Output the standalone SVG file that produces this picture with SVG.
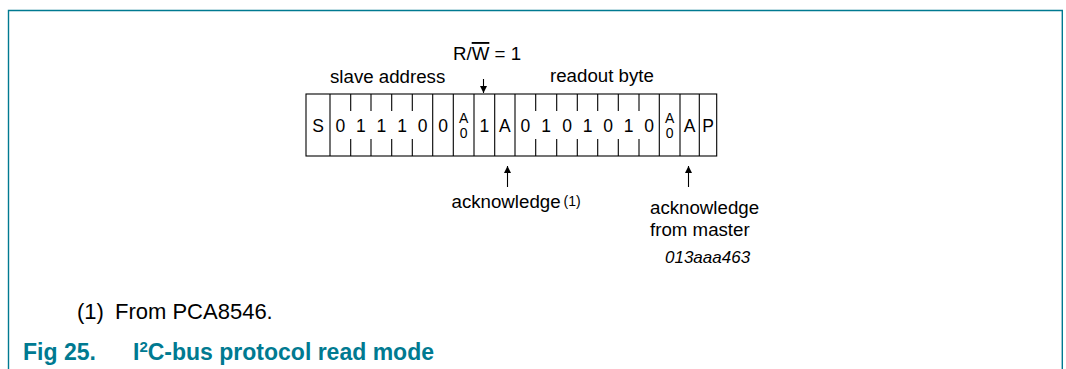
<svg xmlns="http://www.w3.org/2000/svg" width="1066" height="369" viewBox="0 0 1066 369">
<style>
.t{font-family:"Liberation Sans",Arial,sans-serif;fill:#000}
.c{font-size:17.5px;text-anchor:middle}
.s{font-size:14px;text-anchor:middle}
.l{font-size:18.7px}
.ln{stroke:#000;stroke-width:1.1;fill:none}
.fr{stroke:#007a91;stroke-width:1.4;fill:none}
</style>
<defs>
<marker id="ah" viewBox="0 0 10 10" refX="10" refY="5" markerWidth="8" markerHeight="7" orient="auto" markerUnits="userSpaceOnUse">
<path d="M0,0 L10,5 L0,10 Z" fill="#000"/>
</marker>
</defs>
<g id="frame">
<path class="fr" d="M8.5,369 V10.5 H1062.3 V369"/>
</g>
<g id="register">
<rect class="ln" x="306" y="94" width="410.7" height="62" stroke-width="1.4"/>
<path class="ln" d="M330,94V156 M432.7,94V156 M453.3,94V156 M474,94V156 M494.7,94V156 M515,94V156 M659.3,94V156 M680,94V156 M699.3,94V156"/>
<path class="ln" d="M350.7,94V111 M350.7,139V156 M371,94V111 M371,139V156 M391.7,94V111 M391.7,139V156 M412.3,94V111 M412.3,139V156 M535.7,94V111 M535.7,139V156 M556.7,94V111 M556.7,139V156 M577.3,94V111 M577.3,139V156 M597.7,94V111 M597.7,139V156 M618.3,94V111 M618.3,139V156 M639,94V111 M639,139V156"/>
<g class="t c">
<text x="318" y="131.5">S</text>
<text x="340.3" y="131.5">0</text>
<text x="360.8" y="131.5">1</text>
<text x="381.3" y="131.5">1</text>
<text x="402" y="131.5">1</text>
<text x="422.5" y="131.5">0</text>
<text x="443" y="131.5">0</text>
<text x="484.3" y="131.5">1</text>
<text x="504.8" y="131.5">A</text>
<text x="525.3" y="131.5">0</text>
<text x="546.2" y="131.5">1</text>
<text x="567" y="131.5">0</text>
<text x="587.5" y="131.5">1</text>
<text x="608" y="131.5">0</text>
<text x="628.7" y="131.5">1</text>
<text x="649.2" y="131.5">0</text>
<text x="689.7" y="131.5">A</text>
<text x="708" y="131.5">P</text>
</g>
<g class="t s">
<text x="463.7" y="122.5">A</text>
<text x="463.7" y="138">0</text>
<text x="669.7" y="122.5">A</text>
<text x="669.7" y="138">0</text>
</g>
</g>
<g id="labels" class="t l">
<text x="330" y="83">slave address</text>
<text x="453" y="60">R/<tspan text-decoration="overline">W</tspan> = 1</text>
<text x="550" y="82">readout byte</text>
<text x="451.5" y="208">acknowledge<tspan font-size="14" dx="3" dy="-2">(1)</tspan></text>
<text x="650" y="214">acknowledge</text>
<text x="650" y="236">from master</text>
</g>
<g id="connectors">
<line class="ln" x1="483.5" y1="79" x2="483.5" y2="93" marker-end="url(#ah)"/>
<line class="ln" x1="507.5" y1="187" x2="507.5" y2="166" marker-end="url(#ah)"/>
<line class="ln" x1="688.5" y1="187" x2="688.5" y2="166" marker-end="url(#ah)"/>
</g>
<g id="caption">
<text class="t" x="665" y="263" font-size="17" font-style="italic">013aaa463</text>
<text class="t" x="77" y="319" font-size="22">(1)</text>
<text class="t" x="115" y="319" font-size="22">From PCA8546.</text>
<text x="23" y="360" font-family="'Liberation Sans',Arial,sans-serif" font-size="23" font-weight="bold" fill="#007a91">Fig 25.<tspan x="133">I</tspan><tspan font-size="15" dy="-8">2</tspan><tspan dy="8">C-bus protocol read mode</tspan></text>
</g>
</svg>
